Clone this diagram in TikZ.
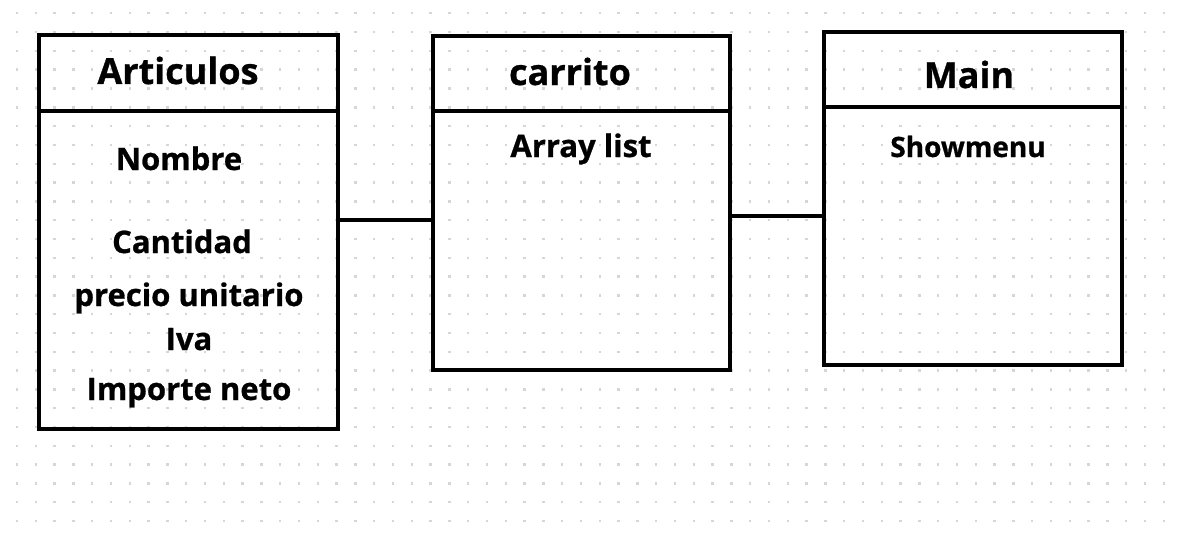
\documentclass[tikz,border=0pt]{standalone}
\usepackage{fontspec}
\setmainfont{Open Sans}[BoldFeatures={FakeBold=0.8}]
\definecolor{dotc}{HTML}{D2D6DE}
\begin{document}
\begin{tikzpicture}[x=1pt,y=-1pt,
  box/.style={draw=black,line width=4pt,inner sep=0pt,outer sep=0pt,anchor=north west},
  divider/.style={draw=black,line width=4pt},
  link/.style={draw=black,line width=4pt},
  title/.style={anchor=base,inner sep=0pt,font=\fontsize{36}{40}\selectfont\bfseries},
  attr/.style={anchor=base,inner sep=0pt,font=\fontsize{31}{34}\selectfont\bfseries},
  attrs/.style={anchor=base,inner sep=0pt,font=\fontsize{28}{32}\selectfont\bfseries}]
\useasboundingbox (0,0) rectangle (1180,535);
\fill[white] (0,0) rectangle (1180,535);
% dot grid
\foreach \i in {0,...,61}{
  \foreach \j in {0,...,27}{
    \fill[dotc] ({17+18.8*\i-1.2},{13.3+18.8*\j-1.2}) rectangle ++(2.4,2.4);
  }
}
% boxes
\node[box,minimum width=299.5pt,minimum height=393.5pt] (art) at (38.5,35.5) {};
\node[box,minimum width=297pt,minimum height=334pt] (cart) at (432.5,36) {};
\node[box,minimum width=298pt,minimum height=333pt] (main) at (823.5,32) {};
% dividers
\coordinate (d1) at (0,111);
\coordinate (d2) at (0,110.5);
\coordinate (d3) at (0,107);
\draw[divider] (art.west |- d1) -- (art.east |- d1);
\draw[divider] (cart.west |- d2) -- (cart.east |- d2);
\draw[divider] (main.west |- d3) -- (main.east |- d3);
% connectors
\coordinate (l1) at (0,220);
\coordinate (l2) at (0,215.5);
\draw[link] (art.east |- l1) -- (cart.west |- l1);
\draw[link] (cart.east |- l2) -- (main.west |- l2);
% titles
\node[title] (tart) at (178,84) {Articulos};
\node[title] (tcart) at (570,85) {carrito};
\node[title] (tmain) at (969,88) {Main};
% attributes
\node[attr] (a1) at (179,170) {Nombre};
\node[attr] (a2) at (182,253) {Cantidad};
\node[attr] (a3) at (189,306) {precio unitario};
\node[attr] (a4) at (189,350) {Iva};
\node[attr] (a5) at (189,400) {Importe neto};
\node[attr] (c1) at (581,157) {Array list};
\node[attrs] (m1) at (968,157) {Showmenu};
\end{tikzpicture}
\end{document}
